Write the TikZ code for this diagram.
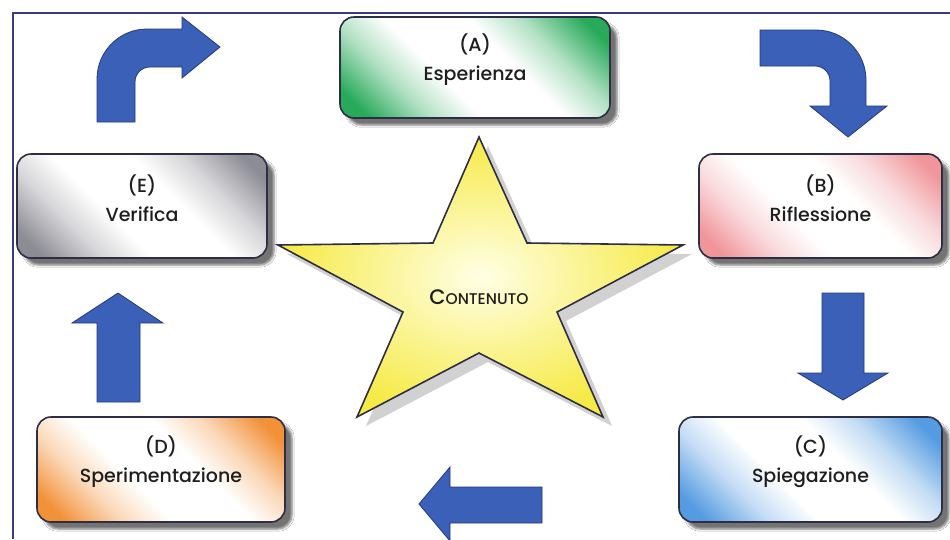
\documentclass[tikz,border=0pt]{standalone}
\usepackage{fontspec}
\setmainfont{Poppins}[UprightFont={* Medium}]
\usetikzlibrary{shadows.blur}
\definecolor{frameblue}{RGB}{58,58,140}
\definecolor{arrowblue}{RGB}{58,96,184}
\definecolor{arrowedge}{RGB}{40,55,130}
\definecolor{boxedge}{RGB}{45,45,70}
\definecolor{cgreen}{RGB}{40,170,90}
\definecolor{cpink}{RGB}{240,150,155}
\definecolor{cblue}{RGB}{85,155,225}
\definecolor{corange}{RGB}{242,145,55}
\definecolor{cgray}{RGB}{140,140,148}
\definecolor{staryellow}{RGB}{246,234,70}
\definecolor{txt}{RGB}{30,30,30}
\colorlet{boxc}{cgreen}
\pgfdeclarehorizontalshading[boxc]{boxshade}{100bp}{color(0bp)=(boxc); color(20bp)=(boxc); color(32bp)=(boxc!35!white); color(42bp)=(white); color(58bp)=(white); color(68bp)=(boxc!35!white); color(80bp)=(boxc); color(100bp)=(boxc)}
\begin{document}
\begin{tikzpicture}[x=1pt,y=-1pt,
  boxcol/.code={\colorlet{boxc}{#1}},
  stagebox/.style={draw=boxedge, line width=1.6pt, rounded corners=14pt,
    boxcol=#1, shading=boxshade, shading angle=45,
    blur shadow={shadow xshift=7pt, shadow yshift=-7pt, shadow opacity=55, shadow blur steps=5}},
  stagetext/.style={text=txt, align=center, font=\fontsize{19}{29}\selectfont},
  blockarrow/.style={fill=arrowblue, draw=arrowedge, line width=0.8pt, line join=miter},
]
\useasboundingbox (0,0) rectangle (950,539);
\fill[white] (0,0) rectangle (950,539);
% frame
\draw[frameblue, line width=2pt] (13,539) -- (13,13) -- (950,13);
% boxes
\node[stagebox=cgreen, minimum width=270pt, minimum height=101pt] (A) at (475,67.5) {};
\node[stagebox=cpink, minimum width=243pt, minimum height=104pt] (B) at (820.5,206) {};
\node[stagebox=cblue, minimum width=263pt, minimum height=105pt] (C) at (810.5,469.5) {};
\node[stagebox=corange, minimum width=248pt, minimum height=105pt] (D) at (161,469.5) {};
\node[stagebox=cgray, minimum width=250pt, minimum height=104pt] (E) at (142,206) {};
\node[stagetext] (Atext) at ([yshift=8pt]A.center) {(A)\\Esperienza};
\node[stagetext] (Btext) at ([yshift=8pt]B.center) {(B)\\Riflessione};
\node[stagetext] (Ctext) at ([yshift=8pt]C.center) {(C)\\Spiegazione};
\node[stagetext] (Dtext) at ([yshift=8pt]D.center) {(D)\\Sperimentazione};
\node[stagetext] (Etext) at ([yshift=8pt]E.center) {(E)\\Verifica};
% star shadow
\fill[gray!45, opacity=0.8, shift={(9,9)}] (479,137) -- (527,243) -- (683,245) -- (557,312) -- (603,417) -- (479,353) -- (357,417) -- (403,312) -- (278,245) -- (433,243) -- cycle;
% star
\draw[draw=boxedge, line width=1.6pt, line join=miter, inner color=yellow!10!white, outer color=staryellow]
  (479,137) -- (527,243) -- (683,245) -- (557,312) -- (603,417) -- (479,353) -- (357,417) -- (403,312) -- (278,245) -- (433,243) -- cycle;
\node[text=txt] (content) at (479,297) {{\fontsize{21}{20}\selectfont C}{\fontsize{15.5}{15}\selectfont ONTENUTO}};
% block arrows
\path[blockarrow] (97,122) -- (97,79) .. controls (97,51.4) and (119.4,29) .. (147,29) -- (182,29) -- (182,17) -- (220,47) -- (182,78) -- (182,67) -- (150,67) .. controls (141.7,67) and (135,73.7) .. (135,82) -- (135,122) -- cycle;
\path[blockarrow] (760,30) -- (816,30) .. controls (843.6,30) and (866,52.4) .. (866,80) -- (866,106) -- (887,106) -- (848,137) -- (810,106) -- (830,106) -- (830,81) .. controls (830,72.7) and (823.3,66) .. (815,66) -- (760,66) -- cycle;
\path[blockarrow] (822,293) -- (864,293) -- (864,373) -- (888,373) -- (843,400) -- (798,373) -- (822,373) -- cycle;
\path[blockarrow] (542,487) -- (450,487) -- (450,467) -- (419,504) -- (450,541) -- (450,523) -- (542,523) -- cycle;
\path[blockarrow] (97,402) -- (97,323) -- (72,323) -- (118,293) -- (163,323) -- (140,323) -- (140,402) -- cycle;
\end{tikzpicture}
\end{document}
